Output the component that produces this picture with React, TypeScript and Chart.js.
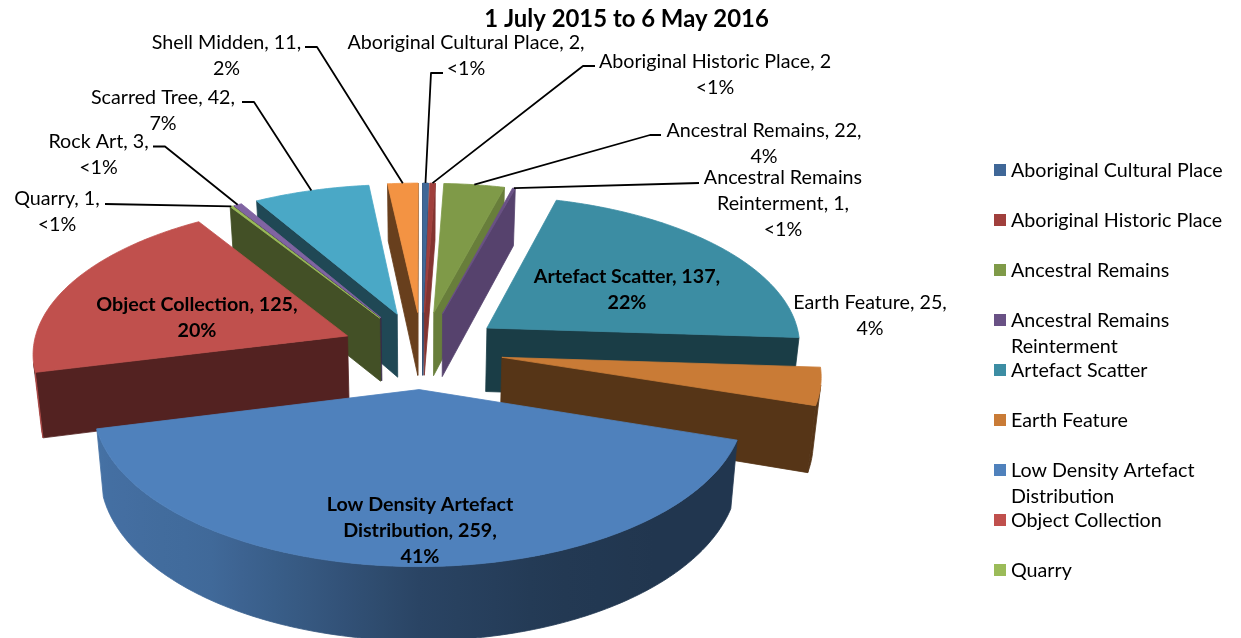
import React, { useEffect, useRef } from "react";
import { Chart, registerables } from "chart.js";

Chart.register(...registerables);

const titleText = "1 July 2015 to 6 May 2016";
const categories = [
  "Aboriginal Cultural Place",
  "Aboriginal Historic Place",
  "Ancestral Remains",
  "Ancestral Remains Reinterment",
  "Artefact Scatter",
  "Earth Feature",
  "Low Density Artefact Distribution",
  "Object Collection",
  "Quarry",
  "Rock Art",
  "Scarred Tree",
  "Shell Midden",
];
const counts = [2, 2, 22, 1, 137, 25, 259, 125, 1, 3, 42, 11];
const sliceColors = [
  "#3f6797", "#a03f3c", "#7f9a48", "#695185", "#3c8da3", "#c97b36",
  "#4f81bc", "#c0504d", "#9bbb59", "#8064a2", "#4aa8c6", "#f39343",
];
const dataLabelLines = [
  ["Aboriginal Cultural Place, 2,", "<1%"],
  ["Aboriginal Historic Place, 2", "<1%"],
  ["Ancestral Remains, 22,", "4%"],
  ["Ancestral Remains", "Reinterment, 1,", "<1%"],
  ["Artefact Scatter, 137,", "22%"],
  ["Earth Feature, 25,", "4%"],
  ["Low Density Artefact", "Distribution, 259,", "41%"],
  ["Object Collection, 125,", "20%"],
  ["Quarry, 1,", "<1%"],
  ["Rock Art, 3,", "<1%"],
  ["Scarred Tree, 42,", "7%"],
  ["Shell Midden, 11,", "2%"],
];
const legendLines = [
  ["Aboriginal Cultural Place"],
  ["Aboriginal Historic Place"],
  ["Ancestral Remains"],
  ["Ancestral Remains", "Reinterment"],
  ["Artefact Scatter"],
  ["Earth Feature"],
  ["Low Density Artefact", "Distribution"],
  ["Object Collection"],
  ["Quarry"],
];

// Layout of the labels (x centre, y centre of first line, bold, leader elbow + start)
const labelLayout = [
  { x: 466, y: 43, leader: [[443, 73], [431, 73]], w: 0.5 },
  { x: 715, y: 62, leader: [[595, 66], [583, 66]], w: 0.5 },
  { x: 764, y: 131, leader: [[661, 135], [650, 135]], w: 0.5 },
  { x: 783, y: 178, leader: [[699, 183]], w: 0.5 },
  { x: 627, y: 277, bold: true },
  { x: 870, y: 303 },
  { x: 420, y: 505, bold: true },
  { x: 197, y: 305, bold: true },
  { x: 57, y: 199, leader: [[105, 204]], w: 0.5 },
  { x: 98.5, y: 142, leader: [[153, 146.5], [165, 146.5]], w: 0.5 },
  { x: 163, y: 98, leader: [[242, 102], [254, 102]], w: 0.5 },
  { x: 226.5, y: 43, leader: [[305, 47], [317, 47]], w: 0.5 },
];

// Projection of the exploded 3-D pie
const CX = 422, CY = 350, RX = 315, KY = 150, PERSP = 0.103, DEPTH = 64.5, CONV = 0.02, EXPLODE = 0.257;
const LABEL_FONT = '"Lato", sans-serif';
const LABEL_SIZE = 19.7;

function project(theta: number, r: number, mid: number, z: number) {
  const u = Math.sin(theta) * r + EXPLODE * Math.sin(mid);
  const v = -Math.cos(theta) * r - EXPLODE * Math.cos(mid);
  const s = 1 / (1 - PERSP * v);
  const x = CX + RX * u * s;
  const y = CY + KY * v * s + DEPTH * s * z;
  return [CX + (x - CX) * (1 - CONV * z), y];
}

function shade(hex: string, f: number) {
  const n = parseInt(hex.slice(1), 16);
  const c = (sh: number) => Math.round(((n >> sh) & 255) * f);
  return `rgb(${c(16)},${c(8)},${c(0)})`;
}

function poly(ctx: CanvasRenderingContext2D, pts: number[][], fill: any) {
  ctx.beginPath();
  pts.forEach((p, i) => (i ? ctx.lineTo(p[0], p[1]) : ctx.moveTo(p[0], p[1])));
  ctx.closePath();
  ctx.fillStyle = fill;
  ctx.strokeStyle = fill;
  ctx.lineWidth = 0.8;
  ctx.fill();
  ctx.stroke();
}

function signedArea(pts: number[][]) {
  let a = 0;
  pts.forEach((p, i) => {
    const q = pts[(i + 1) % pts.length];
    a += p[0] * q[1] - q[0] * p[1];
  });
  return a;
}

function rimFactor(theta: number) {
  const d = (theta * 180) / Math.PI;
  const stops = [[90, 0.42], [140, 0.42], [160, 0.45], [180, 0.53], [200, 0.7], [217, 0.82], [256, 0.88], [256.01, 0.46], [360, 0.46]];
  if (d <= stops[0][0]) return stops[0][1];
  for (let i = 1; i < stops.length; i++) {
    if (d <= stops[i][0]) {
      const t = (d - stops[i - 1][0]) / (stops[i][0] - stops[i - 1][0]);
      return stops[i - 1][1] + t * (stops[i][1] - stops[i - 1][1]);
    }
  }
  return 0.42;
}

const pie3dPlugin = {
  id: "pie3d",
  beforeDatasetDraw() {
    return false; // the arcs are painted in perspective below
  },
  afterDatasetsDraw(chart: any) {
    const ctx: CanvasRenderingContext2D = chart.ctx;
    const arcs: any[] = chart.getDatasetMeta(0).data;
    const slices = arcs.map((arc, index) => {
      const a0 = arc.startAngle + Math.PI / 2;
      const a1 = arc.endAngle + Math.PI / 2;
      return { index, a0, a1, mid: (a0 + a1) / 2 };
    });
    const order = [...slices].sort((p, q) => -Math.cos(p.mid) + Math.cos(q.mid));

    ctx.save();
    for (const sl of order) {
      const base = sliceColors[sl.index];
      const { a0, a1, mid } = sl;
      const steps = Math.max(2, Math.ceil((a1 - a0) / 0.015));
      const thetaAt = (i: number) => a0 + ((a1 - a0) * i) / steps;

      const sideFactor = (edge: number, isEnd: boolean) =>
        isEnd && edge < (30 * Math.PI) / 180 ? 0.82 : 0.43;

      // radial walls
      const tipT = project(0, 0, mid, 0), tipB = project(0, 0, mid, 1);
      const startQ = [tipT, project(a0, 1, mid, 0), project(a0, 1, mid, 1), tipB];
      const endQ = [project(a1, 1, mid, 0), tipT, tipB, project(a1, 1, mid, 1)];
      if (signedArea(startQ) < 0) poly(ctx, startQ, shade(base, sideFactor(a0, false)));
      if (signedArea(endQ) < 0) poly(ctx, endQ, shade(base, sideFactor(a1, true)));

      // rim wall: the visible run of the rim as one shape with a smooth shade
      const run: number[] = [];
      for (let i = 0; i < steps; i++) {
        const t0 = thetaAt(i), t1 = thetaAt(i + 1);
        const q = [project(t0, 1, mid, 0), project(t1, 1, mid, 0), project(t1, 1, mid, 1), project(t0, 1, mid, 1)];
        if (signedArea(q) < 0) {
          if (!run.length) run.push(t0);
          run.push(t1);
        }
      }
      if (run.length > 1) {
        const topEdge = run.map((t) => project(t, 1, mid, 0));
        const botEdge = run.map((t) => project(t, 1, mid, 1)).reverse();
        const x0 = topEdge[0][0];
        const x1 = topEdge[topEdge.length - 1][0];
        const grad = ctx.createLinearGradient(x0, 0, x1, 0);
        const every = Math.max(1, Math.floor(run.length / 24));
        for (let i = 0; i < run.length; i += every) {
          const frac = x1 === x0 ? 0 : (topEdge[i][0] - x0) / (x1 - x0);
          grad.addColorStop(Math.min(1, Math.max(0, frac)), shade(base, rimFactor(run[i])));
        }
        poly(ctx, [...topEdge, ...botEdge], grad);
      }

      // top face
      const top = [tipT];
      for (let i = 0; i <= steps; i++) top.push(project(thetaAt(i), 1, mid, 0));
      poly(ctx, top, base);
    }

    // leader lines
    ctx.strokeStyle = "#000";
    ctx.lineWidth = 1.8;
    ctx.lineJoin = "round";
    labelLayout.forEach((lay, i) => {
      if (!lay.leader) return;
      const sl = slices[i];
      const theta = sl.a0 + (sl.a1 - sl.a0) * (lay.w ?? 0.5);
      const end = project(theta, 1, sl.mid, 0);
      ctx.beginPath();
      lay.leader.forEach((p, k) => (k ? ctx.lineTo(p[0], p[1]) : ctx.moveTo(p[0], p[1])));
      ctx.lineTo(end[0], end[1]);
      ctx.stroke();
    });

    // data labels
    ctx.fillStyle = "#000";
    ctx.textAlign = "center";
    ctx.textBaseline = "middle";
    dataLabelLines.forEach((lines, i) => {
      const lay = labelLayout[i];
      ctx.font = `${lay.bold ? "bold " : ""}${LABEL_SIZE}px ${LABEL_FONT}`;
      lines.forEach((line, k) => ctx.fillText(line, lay.x, lay.y + k * 26));
    });

    // legend (only the first nine entries fit in the original)
    ctx.textAlign = "left";
    ctx.font = `${LABEL_SIZE}px ${LABEL_FONT}`;
    legendLines.forEach((lines, i) => {
      const y = 170 + i * 50;
      ctx.fillStyle = sliceColors[i];
      ctx.fillRect(994, y - 6, 12, 12);
      ctx.fillStyle = "#000";
      lines.forEach((line, k) => ctx.fillText(line, 1011, y + 1 + k * 26));
    });
    ctx.restore();
  },
};

export default function App() {
  const ref = useRef<HTMLCanvasElement>(null);
  useEffect(() => {
    const chart = new Chart(ref.current as HTMLCanvasElement, {
      type: "pie",
      data: {
        labels: categories,
        datasets: [{ data: counts, backgroundColor: sliceColors }],
      },
      options: {
        responsive: false,
        animation: false,
        devicePixelRatio: 1,
        layout: { padding: { left: 12 } },
        plugins: {
          legend: { display: false },
          tooltip: { enabled: false },
          title: {
            display: true,
            text: titleText,
            color: "#000",
            font: { family: LABEL_FONT, size: 23.9, weight: "bold" },
            padding: { top: 5, bottom: 0 },
          },
        },
      },
      plugins: [pie3dPlugin],
    } as any);
    return () => chart.destroy();
  }, []);
  return (
    <div style={{ position: "fixed", left: 0, top: 0, width: 1241, height: 638, background: "#fff" }}>
      <canvas ref={ref} width={1241} height={638} style={{ display: "block" }} />
    </div>
  );
}
